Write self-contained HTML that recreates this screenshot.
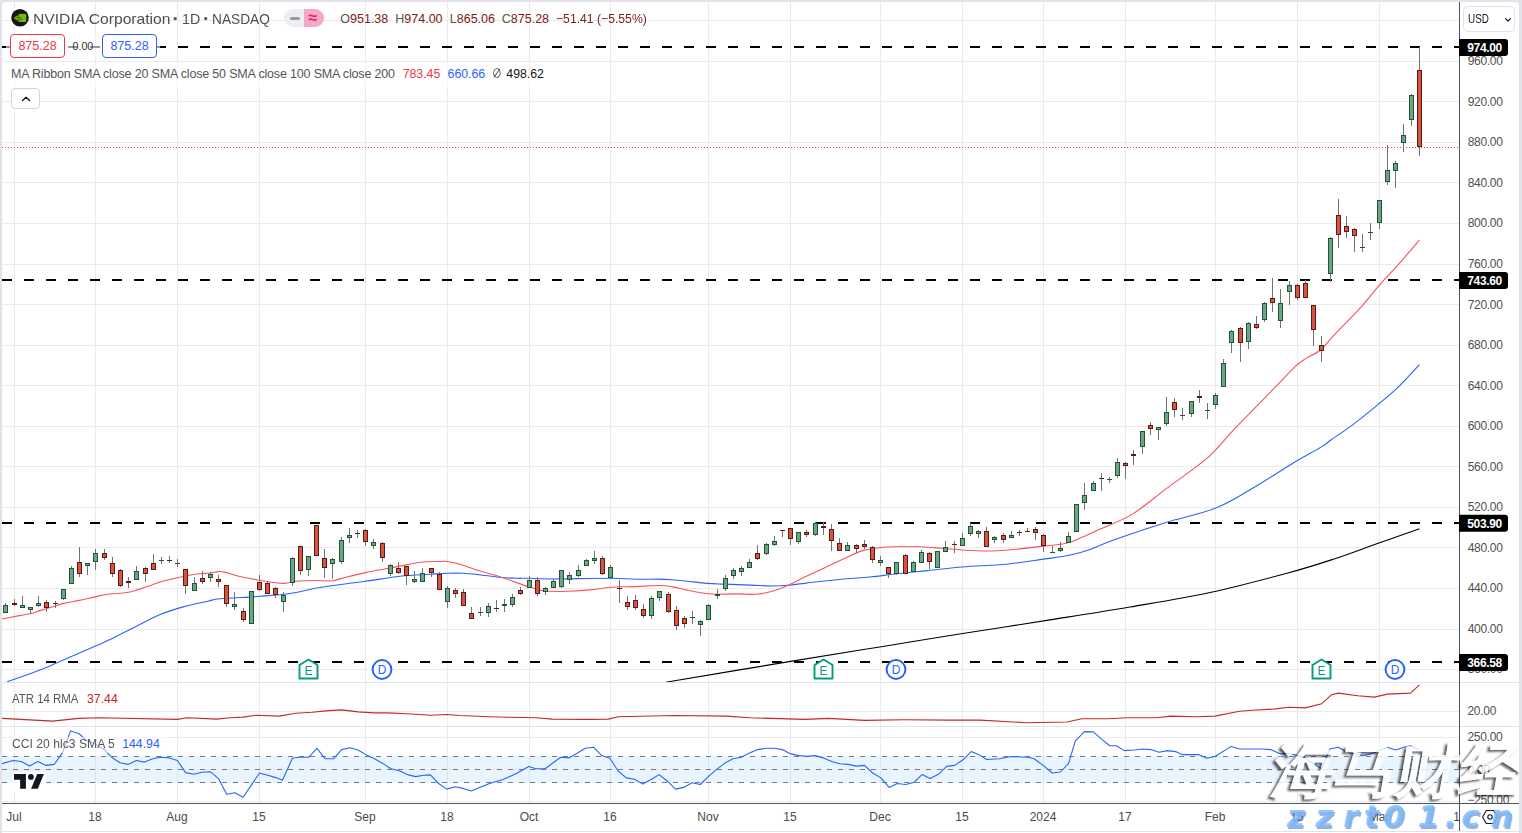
<!DOCTYPE html>
<html><head><meta charset="utf-8"><title>NVIDIA Corporation · 1D · NASDAQ</title>
<style>
html,body{margin:0;padding:0;}
body{width:1522px;height:833px;overflow:hidden;background:#e0e3eb;position:relative;font-family:"Liberation Sans","Noto Sans CJK SC",sans-serif;}
#panel{position:absolute;left:2px;top:2px;width:1517px;height:829px;background:#fff;border-radius:4px 4px 0 0;}
#strip{position:absolute;left:2px;top:832px;width:1517px;height:1px;background:#fff;}
svg{position:absolute;left:0;top:0;}
svg text{font-family:"Liberation Sans",sans-serif;}
.lg{position:absolute;white-space:nowrap;color:#555;}
.wml{position:absolute;top:798px;font-size:31px;line-height:36px;font-family:"DejaVu Sans",sans-serif;font-weight:bold;font-style:italic;color:rgba(120,190,255,0.85);text-shadow:1.5px 1.5px 0.5px rgba(80,100,190,0.55);white-space:nowrap;}
</style></head><body>
<div id="panel"></div><div id="strip"></div>
<svg width="1522" height="833" viewBox="0 0 1522 833">
<rect x="14" y="2" width="1" height="801" fill="#ebebeb"/>
<rect x="95" y="2" width="1" height="801" fill="#ebebeb"/>
<rect x="177" y="2" width="1" height="801" fill="#ebebeb"/>
<rect x="259" y="2" width="1" height="801" fill="#ebebeb"/>
<rect x="365" y="2" width="1" height="801" fill="#ebebeb"/>
<rect x="447" y="2" width="1" height="801" fill="#ebebeb"/>
<rect x="529" y="2" width="1" height="801" fill="#ebebeb"/>
<rect x="610" y="2" width="1" height="801" fill="#ebebeb"/>
<rect x="708" y="2" width="1" height="801" fill="#ebebeb"/>
<rect x="790" y="2" width="1" height="801" fill="#ebebeb"/>
<rect x="880" y="2" width="1" height="801" fill="#ebebeb"/>
<rect x="962" y="2" width="1" height="801" fill="#ebebeb"/>
<rect x="1043" y="2" width="1" height="801" fill="#ebebeb"/>
<rect x="1125" y="2" width="1" height="801" fill="#ebebeb"/>
<rect x="1215" y="2" width="1" height="801" fill="#ebebeb"/>
<rect x="1297" y="2" width="1" height="801" fill="#ebebeb"/>
<rect x="1379" y="2" width="1" height="801" fill="#ebebeb"/>
<rect x="2" y="20" width="1457" height="1" fill="#ebebeb"/>
<rect x="2" y="61" width="1457" height="1" fill="#ebebeb"/>
<rect x="2" y="101" width="1457" height="1" fill="#ebebeb"/>
<rect x="2" y="142" width="1457" height="1" fill="#ebebeb"/>
<rect x="2" y="182" width="1457" height="1" fill="#ebebeb"/>
<rect x="2" y="223" width="1457" height="1" fill="#ebebeb"/>
<rect x="2" y="264" width="1457" height="1" fill="#ebebeb"/>
<rect x="2" y="304" width="1457" height="1" fill="#ebebeb"/>
<rect x="2" y="345" width="1457" height="1" fill="#ebebeb"/>
<rect x="2" y="385" width="1457" height="1" fill="#ebebeb"/>
<rect x="2" y="426" width="1457" height="1" fill="#ebebeb"/>
<rect x="2" y="466" width="1457" height="1" fill="#ebebeb"/>
<rect x="2" y="507" width="1457" height="1" fill="#ebebeb"/>
<rect x="2" y="547" width="1457" height="1" fill="#ebebeb"/>
<rect x="2" y="588" width="1457" height="1" fill="#ebebeb"/>
<rect x="2" y="629" width="1457" height="1" fill="#ebebeb"/>
<rect x="2" y="669" width="1457" height="1" fill="#ebebeb"/>
<rect x="2" y="711" width="1457" height="1" fill="#ebebeb"/>
<rect x="2" y="737" width="1457" height="1" fill="#ebebeb"/>
<rect x="2" y="801" width="1457" height="1" fill="#ebebeb"/>
<rect x="2" y="756" width="1457" height="27" fill="#2196f3" fill-opacity="0.1"/>
<rect x="2" y="769" width="1457" height="1" fill="#ebebeb"/>
<line x1="2" y1="756.5" x2="1459" y2="756.5" stroke="#787b86" stroke-width="1" stroke-dasharray="5 6"/>
<line x1="2" y1="769.5" x2="1459" y2="769.5" stroke="#787b86" stroke-width="1" stroke-dasharray="5 6"/>
<line x1="2" y1="782.5" x2="1459" y2="782.5" stroke="#787b86" stroke-width="1" stroke-dasharray="5 6"/>
<rect x="2" y="682" width="1517" height="1" fill="#e0e3eb"/>
<rect x="2" y="726" width="1517" height="1" fill="#e0e3eb"/>
<clipPath id="cm"><rect x="2" y="2" width="1457" height="680"/></clipPath>
<clipPath id="ca"><rect x="2" y="683" width="1457" height="43"/></clipPath>
<clipPath id="cc"><rect x="2" y="727" width="1457" height="76"/></clipPath>
<g clip-path="url(#cm)"><line x1="2" y1="47" x2="1459" y2="47" stroke="#000" stroke-width="2" stroke-dasharray="10 12"/>
<line x1="2" y1="280" x2="1459" y2="280" stroke="#000" stroke-width="2" stroke-dasharray="10 12"/>
<line x1="2" y1="523" x2="1459" y2="523" stroke="#000" stroke-width="2" stroke-dasharray="10 12"/>
<line x1="2" y1="662" x2="1459" y2="662" stroke="#000" stroke-width="2" stroke-dasharray="10 12"/>
<line x1="2" y1="147.5" x2="1459" y2="147.5" stroke="#d9503f" stroke-width="1" stroke-dasharray="1 2"/>
<path d="M665.8,682.2 C686.6,678.73 754.68,667.32 790.6,661.4 C826.52,655.48 852.62,651.35 881.3,646.7 C909.98,642.05 934.58,637.97 962.7,633.5 C990.82,629.03 1022.12,624.32 1050,619.9 C1077.88,615.48 1103.33,611.57 1130,607 C1156.67,602.43 1183.68,598.17 1210,592.5 C1236.32,586.83 1267.22,578.58 1287.9,573 C1308.58,567.42 1319.4,563.83 1334.1,559 C1348.8,554.17 1361.87,549.05 1376.1,544 C1390.33,538.95 1412.27,531.25 1419.5,528.7" fill="none" stroke="#000000" stroke-width="1.1"/>
<path d="M7.2,681.8 C12,680.1 27.6,674.8 36,671.6 C44.4,668.4 47.6,666.9 57.6,662.6 C67.6,658.3 87.27,649.63 96,645.8 C104.73,641.97 103.33,642.83 110,639.6 C116.67,636.37 127.67,630.57 136,626.4 C144.33,622.23 152,617.9 160,614.6 C168,611.3 176,608.83 184,606.6 C192,604.37 202,602.5 208,601.2 C214,599.9 211.33,599.62 220,598.8 C228.67,597.98 248.33,597.18 260,596.3 C271.67,595.42 280,594.97 290,593.5 C300,592.03 307.5,589.53 320,587.5 C332.5,585.47 351.67,583.18 365,581.3 C378.33,579.42 389.17,577.37 400,576.2 C410.83,575.03 422.12,574.78 430,574.3 C437.88,573.82 441.78,573.47 447.3,573.3 C452.82,573.13 457.82,573.07 463.1,573.3 C468.38,573.53 473,574.05 479,574.7 C485,575.35 492.87,576.6 499.1,577.2 C505.33,577.8 511.35,578.12 516.4,578.3 C521.45,578.48 523.8,578.18 529.4,578.3 C535,578.42 536.47,579 550,579 C563.53,579 595.47,578.25 610.6,578.3 C625.73,578.35 632.8,579.17 640.8,579.3 C648.8,579.43 653.47,579.02 658.6,579.1 C663.73,579.18 665.83,579.33 671.6,579.8 C677.37,580.27 687.2,581.3 693.2,581.9 C699.2,582.5 702.8,583.03 707.6,583.4 C712.4,583.77 714.8,583.82 722,584.1 C729.2,584.38 742.07,584.78 750.8,585.1 C759.53,585.42 767.83,586.02 774.4,586 C780.97,585.98 783,585.7 790.2,585 C797.4,584.3 808.23,582.83 817.6,581.8 C826.97,580.77 837.67,579.6 846.4,578.8 C855.13,578 861.27,577.88 870,577 C878.73,576.12 889.2,574.57 898.8,573.5 C908.4,572.43 917.03,571.68 927.6,570.6 C938.17,569.52 951.8,567.88 962.2,567 C972.6,566.12 982.23,565.8 990,565.3 C997.77,564.8 999.88,565.03 1008.8,564 C1017.72,562.97 1033.4,560.55 1043.5,559.1 C1053.6,557.65 1061.65,556.9 1069.4,555.3 C1077.15,553.7 1082.3,552.17 1090,549.5 C1097.7,546.83 1102.93,543.8 1115.6,539.3 C1128.27,534.8 1149.18,527.75 1166,522.5 C1182.82,517.25 1201.08,514.1 1216.5,507.8 C1231.92,501.5 1245.9,492.05 1258.5,484.7 C1271.1,477.35 1281.6,470 1292.1,463.7 C1302.6,457.4 1315.03,450.85 1321.5,446.9 C1327.97,442.95 1325.55,443.8 1330.9,440 C1336.25,436.2 1345.62,430.12 1353.6,424.1 C1361.58,418.08 1371.23,410.2 1378.8,403.9 C1386.37,397.6 1392.22,392.85 1399,386.3 C1405.78,379.75 1416.08,368.22 1419.5,364.6" fill="none" stroke="#2962ff" stroke-width="1.1"/>
<path d="M2,619 C4.07,618.6 9.73,617.48 14.4,616.6 C19.07,615.72 25.73,614.7 30,613.7 C34.27,612.7 36.33,611.72 40,610.6 C43.67,609.48 48.1,608.2 52,607 C55.9,605.8 58.87,604.5 63.4,603.4 C67.93,602.3 73.77,601.53 79.2,600.4 C84.63,599.27 90.87,597.67 96,596.6 C101.13,595.53 104.6,594.73 110,594 C115.4,593.27 122.07,593.5 128.4,592.2 C134.73,590.9 142.73,587.9 148,586.2 C153.27,584.5 155.1,583.4 160,582 C164.9,580.6 171.4,579.1 177.4,577.8 C183.4,576.5 190.57,575 196,574.2 C201.43,573.4 206.33,573.43 210,573 C213.67,572.57 215.6,571.75 218,571.6 C220.4,571.45 220.93,571.33 224.4,572.1 C227.87,572.87 232.97,574.85 238.8,576.2 C244.63,577.55 251.95,579 259.4,580.2 C266.85,581.4 277.33,583.23 283.5,583.4 C289.67,583.57 291.05,581.68 296.4,581.2 C301.75,580.72 309.75,580.53 315.6,580.5 C321.45,580.47 327.17,581.35 331.5,581 C335.83,580.65 335.93,579.8 341.6,578.4 C347.27,577 358.3,574.17 365.5,572.6 C372.7,571.03 379.05,570.08 384.8,569 C390.55,567.92 394,567.23 400,566.1 C406,564.97 414.13,562.97 420.8,562.2 C427.47,561.43 435.53,561.62 440,561.5 C444.47,561.38 443.87,560.92 447.6,561.5 C451.33,562.08 457.17,563.47 462.4,565 C467.63,566.53 473.35,568.95 479,570.7 C484.65,572.45 491.02,573.87 496.3,575.5 C501.58,577.13 505.42,578.65 510.7,580.5 C515.98,582.35 522.72,584.92 528,586.6 C533.28,588.28 538.73,589.82 542.4,590.6 C546.07,591.38 545.6,591.18 550,591.3 C554.4,591.42 562.07,591.53 568.8,591.3 C575.53,591.07 583.43,590.57 590.4,589.9 C597.37,589.23 603.4,587.85 610.6,587.3 C617.8,586.75 625.6,586.9 633.6,586.6 C641.6,586.3 652.27,585.5 658.6,585.5 C664.93,585.5 667.03,585.87 671.6,586.6 C676.17,587.33 681.2,588.88 686,589.9 C690.8,590.92 695.6,591.98 700.4,592.7 C705.2,593.42 708.8,594 714.8,594.2 C720.8,594.4 729.43,593.9 736.4,593.9 C743.37,593.9 750.5,594.68 756.6,594.2 C762.7,593.72 767.63,592.53 773,591 C778.37,589.47 783.77,587.2 788.8,585 C793.83,582.8 797.2,580.68 803.2,577.8 C809.2,574.92 817.6,571.07 824.8,567.7 C832,564.33 839.92,560.48 846.4,557.6 C852.88,554.72 857.37,552.13 863.7,550.4 C870.03,548.67 878.55,547.8 884.4,547.2 C890.25,546.6 892.8,546.87 898.8,546.8 C904.8,546.73 913.2,546.55 920.4,546.8 C927.6,547.05 935.03,547.77 942,548.3 C948.97,548.83 954.43,549.55 962.2,550 C969.97,550.45 980.83,551 988.6,551 C996.37,551 999.65,550.82 1008.8,550 C1017.95,549.18 1033.9,547.22 1043.5,546.1 C1053.1,544.98 1059.98,544.78 1066.4,543.3 C1072.82,541.82 1076.4,539.57 1082,537.2 C1087.6,534.83 1091.6,532.95 1100,529.1 C1108.4,525.25 1121.4,520.8 1132.4,514.1 C1143.4,507.4 1153.4,498.35 1166,488.9 C1178.6,479.45 1196.78,467.2 1208,457.4 C1219.22,447.6 1225.42,438.38 1233.3,430.1 C1241.18,421.82 1247.85,415.33 1255.3,407.7 C1262.75,400.07 1271.28,391.23 1278,384.3 C1284.72,377.37 1290.98,370.38 1295.6,366.1 C1300.22,361.82 1301.5,361.33 1305.7,358.6 C1309.9,355.87 1316.18,353.48 1320.8,349.7 C1325.42,345.92 1326.67,343.03 1333.4,335.9 C1340.13,328.77 1353.22,315.73 1361.2,306.9 C1369.18,298.07 1375.42,289.62 1381.3,282.9 C1387.18,276.18 1390.13,273.73 1396.5,266.6 C1402.87,259.47 1415.67,244.52 1419.5,240.1" fill="none" stroke="#f7525f" stroke-width="1.1"/>
<rect x="5" y="603" width="1" height="10" fill="#737375"/>
<rect x="3" y="605" width="5" height="8" fill="#225437"/>
<rect x="4" y="606" width="3" height="6" fill="#6ba583"/>
<rect x="14" y="599" width="1" height="7" fill="#737375"/>
<rect x="12" y="603" width="5" height="2" fill="#5b1a13"/>
<rect x="22" y="596" width="1" height="12" fill="#737375"/>
<rect x="20" y="605" width="5" height="3" fill="#225437"/>
<rect x="21" y="606" width="3" height="1" fill="#6ba583"/>
<rect x="30" y="607" width="1" height="7" fill="#737375"/>
<rect x="28" y="607" width="5" height="3" fill="#225437"/>
<rect x="29" y="608" width="3" height="1" fill="#6ba583"/>
<rect x="38" y="596" width="1" height="11" fill="#737375"/>
<rect x="36" y="603" width="5" height="3" fill="#225437"/>
<rect x="37" y="604" width="3" height="1" fill="#6ba583"/>
<rect x="46" y="600" width="1" height="12" fill="#737375"/>
<rect x="44" y="602" width="5" height="6" fill="#5b1a13"/>
<rect x="45" y="603" width="3" height="4" fill="#d75442"/>
<rect x="55" y="601" width="1" height="7" fill="#737375"/>
<rect x="53" y="603" width="5" height="1" fill="#5b1a13"/>
<rect x="63" y="589" width="1" height="11" fill="#737375"/>
<rect x="61" y="589" width="5" height="10" fill="#225437"/>
<rect x="62" y="590" width="3" height="8" fill="#6ba583"/>
<rect x="71" y="566" width="1" height="18" fill="#737375"/>
<rect x="69" y="568" width="5" height="16" fill="#225437"/>
<rect x="70" y="569" width="3" height="14" fill="#6ba583"/>
<rect x="79" y="547" width="1" height="30" fill="#737375"/>
<rect x="77" y="562" width="5" height="12" fill="#5b1a13"/>
<rect x="78" y="563" width="3" height="10" fill="#d75442"/>
<rect x="87" y="563" width="1" height="12" fill="#737375"/>
<rect x="85" y="563" width="5" height="3" fill="#225437"/>
<rect x="86" y="564" width="3" height="1" fill="#6ba583"/>
<rect x="95" y="549" width="1" height="21" fill="#737375"/>
<rect x="93" y="553" width="5" height="9" fill="#225437"/>
<rect x="94" y="554" width="3" height="7" fill="#6ba583"/>
<rect x="104" y="549" width="1" height="11" fill="#737375"/>
<rect x="102" y="553" width="5" height="5" fill="#5b1a13"/>
<rect x="103" y="554" width="3" height="3" fill="#d75442"/>
<rect x="112" y="557" width="1" height="20" fill="#737375"/>
<rect x="110" y="563" width="5" height="11" fill="#5b1a13"/>
<rect x="111" y="564" width="3" height="9" fill="#d75442"/>
<rect x="120" y="569" width="1" height="18" fill="#737375"/>
<rect x="118" y="570" width="5" height="16" fill="#5b1a13"/>
<rect x="119" y="571" width="3" height="14" fill="#d75442"/>
<rect x="128" y="577" width="1" height="11" fill="#737375"/>
<rect x="126" y="581" width="5" height="2" fill="#5b1a13"/>
<rect x="136" y="566" width="1" height="14" fill="#737375"/>
<rect x="134" y="571" width="5" height="9" fill="#225437"/>
<rect x="135" y="572" width="3" height="7" fill="#6ba583"/>
<rect x="145" y="567" width="1" height="15" fill="#737375"/>
<rect x="143" y="568" width="5" height="6" fill="#5b1a13"/>
<rect x="144" y="569" width="3" height="4" fill="#d75442"/>
<rect x="153" y="554" width="1" height="16" fill="#737375"/>
<rect x="151" y="563" width="5" height="7" fill="#5b1a13"/>
<rect x="152" y="564" width="3" height="5" fill="#d75442"/>
<rect x="161" y="557" width="1" height="7" fill="#737375"/>
<rect x="159" y="560" width="5" height="1" fill="#225437"/>
<rect x="169" y="556" width="1" height="7" fill="#737375"/>
<rect x="167" y="560" width="5" height="1" fill="#5b1a13"/>
<rect x="177" y="559" width="1" height="8" fill="#737375"/>
<rect x="175" y="563" width="5" height="1" fill="#225437"/>
<rect x="185" y="569" width="1" height="25" fill="#737375"/>
<rect x="183" y="569" width="5" height="17" fill="#5b1a13"/>
<rect x="184" y="570" width="3" height="15" fill="#d75442"/>
<rect x="194" y="577" width="1" height="14" fill="#737375"/>
<rect x="192" y="583" width="5" height="8" fill="#225437"/>
<rect x="193" y="584" width="3" height="6" fill="#6ba583"/>
<rect x="202" y="571" width="1" height="13" fill="#737375"/>
<rect x="200" y="578" width="5" height="4" fill="#5b1a13"/>
<rect x="201" y="579" width="3" height="2" fill="#d75442"/>
<rect x="210" y="572" width="1" height="10" fill="#737375"/>
<rect x="208" y="574" width="5" height="4" fill="#225437"/>
<rect x="209" y="575" width="3" height="2" fill="#6ba583"/>
<rect x="218" y="575" width="1" height="12" fill="#737375"/>
<rect x="216" y="579" width="5" height="3" fill="#5b1a13"/>
<rect x="217" y="580" width="3" height="1" fill="#d75442"/>
<rect x="226" y="585" width="1" height="22" fill="#737375"/>
<rect x="224" y="585" width="5" height="19" fill="#5b1a13"/>
<rect x="225" y="586" width="3" height="17" fill="#d75442"/>
<rect x="234" y="592" width="1" height="18" fill="#737375"/>
<rect x="232" y="604" width="5" height="3" fill="#225437"/>
<rect x="233" y="605" width="3" height="1" fill="#6ba583"/>
<rect x="243" y="608" width="1" height="14" fill="#737375"/>
<rect x="241" y="611" width="5" height="9" fill="#5b1a13"/>
<rect x="242" y="612" width="3" height="7" fill="#d75442"/>
<rect x="251" y="591" width="1" height="33" fill="#737375"/>
<rect x="249" y="591" width="5" height="33" fill="#225437"/>
<rect x="250" y="592" width="3" height="31" fill="#6ba583"/>
<rect x="259" y="575" width="1" height="16" fill="#737375"/>
<rect x="257" y="582" width="5" height="8" fill="#5b1a13"/>
<rect x="258" y="583" width="3" height="6" fill="#d75442"/>
<rect x="267" y="581" width="1" height="13" fill="#737375"/>
<rect x="265" y="583" width="5" height="11" fill="#5b1a13"/>
<rect x="266" y="584" width="3" height="9" fill="#d75442"/>
<rect x="275" y="587" width="1" height="11" fill="#737375"/>
<rect x="273" y="588" width="5" height="7" fill="#5b1a13"/>
<rect x="274" y="589" width="3" height="5" fill="#d75442"/>
<rect x="283" y="592" width="1" height="20" fill="#737375"/>
<rect x="281" y="595" width="5" height="7" fill="#225437"/>
<rect x="282" y="596" width="3" height="5" fill="#6ba583"/>
<rect x="292" y="557" width="1" height="29" fill="#737375"/>
<rect x="290" y="558" width="5" height="25" fill="#225437"/>
<rect x="291" y="559" width="3" height="23" fill="#6ba583"/>
<rect x="300" y="546" width="1" height="29" fill="#737375"/>
<rect x="298" y="546" width="5" height="25" fill="#5b1a13"/>
<rect x="299" y="547" width="3" height="23" fill="#d75442"/>
<rect x="308" y="556" width="1" height="20" fill="#737375"/>
<rect x="306" y="556" width="5" height="14" fill="#225437"/>
<rect x="307" y="557" width="3" height="12" fill="#6ba583"/>
<rect x="316" y="525" width="1" height="31" fill="#737375"/>
<rect x="314" y="525" width="5" height="31" fill="#5b1a13"/>
<rect x="315" y="526" width="3" height="29" fill="#d75442"/>
<rect x="324" y="549" width="1" height="29" fill="#737375"/>
<rect x="322" y="558" width="5" height="10" fill="#5b1a13"/>
<rect x="323" y="559" width="3" height="8" fill="#d75442"/>
<rect x="332" y="558" width="1" height="21" fill="#737375"/>
<rect x="330" y="559" width="5" height="5" fill="#225437"/>
<rect x="331" y="560" width="3" height="3" fill="#6ba583"/>
<rect x="341" y="537" width="1" height="27" fill="#737375"/>
<rect x="339" y="540" width="5" height="22" fill="#225437"/>
<rect x="340" y="541" width="3" height="20" fill="#6ba583"/>
<rect x="349" y="528" width="1" height="15" fill="#737375"/>
<rect x="347" y="535" width="5" height="3" fill="#225437"/>
<rect x="348" y="536" width="3" height="1" fill="#6ba583"/>
<rect x="357" y="530" width="1" height="8" fill="#737375"/>
<rect x="355" y="533" width="5" height="1" fill="#5b1a13"/>
<rect x="365" y="529" width="1" height="17" fill="#737375"/>
<rect x="363" y="530" width="5" height="12" fill="#5b1a13"/>
<rect x="364" y="531" width="3" height="10" fill="#d75442"/>
<rect x="373" y="539" width="1" height="10" fill="#737375"/>
<rect x="371" y="542" width="5" height="4" fill="#225437"/>
<rect x="372" y="543" width="3" height="2" fill="#6ba583"/>
<rect x="382" y="542" width="1" height="20" fill="#737375"/>
<rect x="380" y="543" width="5" height="15" fill="#5b1a13"/>
<rect x="381" y="544" width="3" height="13" fill="#d75442"/>
<rect x="390" y="564" width="1" height="12" fill="#737375"/>
<rect x="388" y="565" width="5" height="9" fill="#225437"/>
<rect x="389" y="566" width="3" height="7" fill="#6ba583"/>
<rect x="398" y="562" width="1" height="12" fill="#737375"/>
<rect x="396" y="568" width="5" height="5" fill="#5b1a13"/>
<rect x="397" y="569" width="3" height="3" fill="#d75442"/>
<rect x="406" y="566" width="1" height="19" fill="#737375"/>
<rect x="404" y="566" width="5" height="10" fill="#5b1a13"/>
<rect x="405" y="567" width="3" height="8" fill="#d75442"/>
<rect x="414" y="571" width="1" height="12" fill="#737375"/>
<rect x="412" y="579" width="5" height="3" fill="#225437"/>
<rect x="413" y="580" width="3" height="1" fill="#6ba583"/>
<rect x="422" y="568" width="1" height="14" fill="#737375"/>
<rect x="420" y="573" width="5" height="9" fill="#225437"/>
<rect x="421" y="574" width="3" height="7" fill="#6ba583"/>
<rect x="431" y="568" width="1" height="9" fill="#737375"/>
<rect x="429" y="568" width="5" height="5" fill="#5b1a13"/>
<rect x="430" y="569" width="3" height="3" fill="#d75442"/>
<rect x="439" y="572" width="1" height="18" fill="#737375"/>
<rect x="437" y="574" width="5" height="16" fill="#5b1a13"/>
<rect x="438" y="575" width="3" height="14" fill="#d75442"/>
<rect x="447" y="586" width="1" height="22" fill="#737375"/>
<rect x="445" y="588" width="5" height="14" fill="#225437"/>
<rect x="446" y="589" width="3" height="12" fill="#6ba583"/>
<rect x="455" y="588" width="1" height="10" fill="#737375"/>
<rect x="453" y="590" width="5" height="4" fill="#5b1a13"/>
<rect x="454" y="591" width="3" height="2" fill="#d75442"/>
<rect x="463" y="589" width="1" height="17" fill="#737375"/>
<rect x="461" y="592" width="5" height="14" fill="#5b1a13"/>
<rect x="462" y="593" width="3" height="12" fill="#d75442"/>
<rect x="471" y="607" width="1" height="12" fill="#737375"/>
<rect x="469" y="613" width="5" height="6" fill="#5b1a13"/>
<rect x="470" y="614" width="3" height="4" fill="#d75442"/>
<rect x="480" y="607" width="1" height="9" fill="#737375"/>
<rect x="478" y="612" width="5" height="1" fill="#225437"/>
<rect x="488" y="603" width="1" height="14" fill="#737375"/>
<rect x="486" y="606" width="5" height="7" fill="#225437"/>
<rect x="487" y="607" width="3" height="5" fill="#6ba583"/>
<rect x="496" y="600" width="1" height="12" fill="#737375"/>
<rect x="494" y="608" width="5" height="1" fill="#5b1a13"/>
<rect x="504" y="599" width="1" height="13" fill="#737375"/>
<rect x="502" y="604" width="5" height="2" fill="#225437"/>
<rect x="512" y="594" width="1" height="13" fill="#737375"/>
<rect x="510" y="597" width="5" height="8" fill="#225437"/>
<rect x="511" y="598" width="3" height="6" fill="#6ba583"/>
<rect x="520" y="587" width="1" height="8" fill="#737375"/>
<rect x="518" y="590" width="5" height="4" fill="#5b1a13"/>
<rect x="519" y="591" width="3" height="2" fill="#d75442"/>
<rect x="529" y="576" width="1" height="12" fill="#737375"/>
<rect x="527" y="580" width="5" height="8" fill="#225437"/>
<rect x="528" y="581" width="3" height="6" fill="#6ba583"/>
<rect x="537" y="577" width="1" height="19" fill="#737375"/>
<rect x="535" y="580" width="5" height="14" fill="#5b1a13"/>
<rect x="536" y="581" width="3" height="12" fill="#d75442"/>
<rect x="545" y="587" width="1" height="8" fill="#737375"/>
<rect x="543" y="588" width="5" height="4" fill="#225437"/>
<rect x="544" y="589" width="3" height="2" fill="#6ba583"/>
<rect x="553" y="579" width="1" height="9" fill="#737375"/>
<rect x="551" y="581" width="5" height="7" fill="#225437"/>
<rect x="552" y="582" width="3" height="5" fill="#6ba583"/>
<rect x="561" y="570" width="1" height="18" fill="#737375"/>
<rect x="559" y="570" width="5" height="17" fill="#225437"/>
<rect x="560" y="571" width="3" height="15" fill="#6ba583"/>
<rect x="569" y="572" width="1" height="12" fill="#737375"/>
<rect x="567" y="575" width="5" height="5" fill="#225437"/>
<rect x="568" y="576" width="3" height="3" fill="#6ba583"/>
<rect x="578" y="565" width="1" height="12" fill="#737375"/>
<rect x="576" y="570" width="5" height="6" fill="#225437"/>
<rect x="577" y="571" width="3" height="4" fill="#6ba583"/>
<rect x="586" y="559" width="1" height="7" fill="#737375"/>
<rect x="584" y="560" width="5" height="6" fill="#225437"/>
<rect x="585" y="561" width="3" height="4" fill="#6ba583"/>
<rect x="594" y="551" width="1" height="13" fill="#737375"/>
<rect x="592" y="558" width="5" height="3" fill="#225437"/>
<rect x="593" y="559" width="3" height="1" fill="#6ba583"/>
<rect x="602" y="556" width="1" height="19" fill="#737375"/>
<rect x="600" y="558" width="5" height="16" fill="#5b1a13"/>
<rect x="601" y="559" width="3" height="14" fill="#d75442"/>
<rect x="610" y="565" width="1" height="13" fill="#737375"/>
<rect x="608" y="567" width="5" height="11" fill="#225437"/>
<rect x="609" y="568" width="3" height="9" fill="#6ba583"/>
<rect x="619" y="580" width="1" height="23" fill="#737375"/>
<rect x="617" y="588" width="5" height="1" fill="#5b1a13"/>
<rect x="627" y="596" width="1" height="14" fill="#737375"/>
<rect x="625" y="602" width="5" height="5" fill="#5b1a13"/>
<rect x="626" y="603" width="3" height="3" fill="#d75442"/>
<rect x="635" y="595" width="1" height="15" fill="#737375"/>
<rect x="633" y="600" width="5" height="8" fill="#5b1a13"/>
<rect x="634" y="601" width="3" height="6" fill="#d75442"/>
<rect x="643" y="604" width="1" height="14" fill="#737375"/>
<rect x="641" y="609" width="5" height="7" fill="#5b1a13"/>
<rect x="642" y="610" width="3" height="5" fill="#d75442"/>
<rect x="651" y="596" width="1" height="23" fill="#737375"/>
<rect x="649" y="598" width="5" height="18" fill="#225437"/>
<rect x="650" y="599" width="3" height="16" fill="#6ba583"/>
<rect x="659" y="591" width="1" height="10" fill="#737375"/>
<rect x="657" y="591" width="5" height="7" fill="#225437"/>
<rect x="658" y="592" width="3" height="5" fill="#6ba583"/>
<rect x="668" y="592" width="1" height="21" fill="#737375"/>
<rect x="666" y="594" width="5" height="18" fill="#5b1a13"/>
<rect x="667" y="595" width="3" height="16" fill="#d75442"/>
<rect x="676" y="606" width="1" height="24" fill="#737375"/>
<rect x="674" y="610" width="5" height="16" fill="#5b1a13"/>
<rect x="675" y="611" width="3" height="14" fill="#d75442"/>
<rect x="684" y="616" width="1" height="12" fill="#737375"/>
<rect x="682" y="618" width="5" height="6" fill="#5b1a13"/>
<rect x="683" y="619" width="3" height="4" fill="#d75442"/>
<rect x="692" y="611" width="1" height="13" fill="#737375"/>
<rect x="690" y="617" width="5" height="1" fill="#225437"/>
<rect x="700" y="620" width="1" height="16" fill="#737375"/>
<rect x="698" y="621" width="5" height="4" fill="#225437"/>
<rect x="699" y="622" width="3" height="2" fill="#6ba583"/>
<rect x="708" y="604" width="1" height="16" fill="#737375"/>
<rect x="706" y="605" width="5" height="15" fill="#225437"/>
<rect x="707" y="606" width="3" height="13" fill="#6ba583"/>
<rect x="717" y="589" width="1" height="10" fill="#737375"/>
<rect x="715" y="594" width="5" height="2" fill="#225437"/>
<rect x="725" y="575" width="1" height="16" fill="#737375"/>
<rect x="723" y="578" width="5" height="11" fill="#225437"/>
<rect x="724" y="579" width="3" height="9" fill="#6ba583"/>
<rect x="733" y="568" width="1" height="11" fill="#737375"/>
<rect x="731" y="570" width="5" height="6" fill="#225437"/>
<rect x="732" y="571" width="3" height="4" fill="#6ba583"/>
<rect x="741" y="566" width="1" height="10" fill="#737375"/>
<rect x="739" y="568" width="5" height="4" fill="#225437"/>
<rect x="740" y="569" width="3" height="2" fill="#6ba583"/>
<rect x="749" y="559" width="1" height="9" fill="#737375"/>
<rect x="747" y="562" width="5" height="6" fill="#225437"/>
<rect x="748" y="563" width="3" height="4" fill="#6ba583"/>
<rect x="757" y="545" width="1" height="15" fill="#737375"/>
<rect x="755" y="553" width="5" height="6" fill="#5b1a13"/>
<rect x="756" y="554" width="3" height="4" fill="#d75442"/>
<rect x="766" y="543" width="1" height="12" fill="#737375"/>
<rect x="764" y="544" width="5" height="10" fill="#225437"/>
<rect x="765" y="545" width="3" height="8" fill="#6ba583"/>
<rect x="774" y="536" width="1" height="10" fill="#737375"/>
<rect x="772" y="541" width="5" height="4" fill="#225437"/>
<rect x="773" y="542" width="3" height="2" fill="#6ba583"/>
<rect x="782" y="530" width="1" height="7" fill="#737375"/>
<rect x="780" y="530" width="5" height="1" fill="#5b1a13"/>
<rect x="790" y="528" width="1" height="17" fill="#737375"/>
<rect x="788" y="528" width="5" height="11" fill="#5b1a13"/>
<rect x="789" y="529" width="3" height="9" fill="#d75442"/>
<rect x="798" y="532" width="1" height="12" fill="#737375"/>
<rect x="796" y="532" width="5" height="10" fill="#225437"/>
<rect x="797" y="533" width="3" height="8" fill="#6ba583"/>
<rect x="806" y="530" width="1" height="7" fill="#737375"/>
<rect x="804" y="532" width="5" height="3" fill="#5b1a13"/>
<rect x="805" y="533" width="3" height="1" fill="#d75442"/>
<rect x="815" y="522" width="1" height="14" fill="#737375"/>
<rect x="813" y="523" width="5" height="12" fill="#225437"/>
<rect x="814" y="524" width="3" height="10" fill="#6ba583"/>
<rect x="823" y="522" width="1" height="13" fill="#737375"/>
<rect x="821" y="526" width="5" height="2" fill="#5b1a13"/>
<rect x="831" y="524" width="1" height="27" fill="#737375"/>
<rect x="829" y="529" width="5" height="12" fill="#5b1a13"/>
<rect x="830" y="530" width="3" height="10" fill="#d75442"/>
<rect x="839" y="538" width="1" height="13" fill="#737375"/>
<rect x="837" y="543" width="5" height="8" fill="#5b1a13"/>
<rect x="838" y="544" width="3" height="6" fill="#d75442"/>
<rect x="847" y="542" width="1" height="9" fill="#737375"/>
<rect x="845" y="545" width="5" height="6" fill="#225437"/>
<rect x="846" y="546" width="3" height="4" fill="#6ba583"/>
<rect x="856" y="544" width="1" height="9" fill="#737375"/>
<rect x="854" y="545" width="5" height="4" fill="#5b1a13"/>
<rect x="855" y="546" width="3" height="2" fill="#d75442"/>
<rect x="864" y="540" width="1" height="9" fill="#737375"/>
<rect x="862" y="544" width="5" height="3" fill="#5b1a13"/>
<rect x="863" y="545" width="3" height="1" fill="#d75442"/>
<rect x="872" y="546" width="1" height="17" fill="#737375"/>
<rect x="870" y="547" width="5" height="13" fill="#5b1a13"/>
<rect x="871" y="548" width="3" height="11" fill="#d75442"/>
<rect x="880" y="556" width="1" height="10" fill="#737375"/>
<rect x="878" y="560" width="5" height="3" fill="#225437"/>
<rect x="879" y="561" width="3" height="1" fill="#6ba583"/>
<rect x="888" y="567" width="1" height="11" fill="#737375"/>
<rect x="886" y="567" width="5" height="7" fill="#5b1a13"/>
<rect x="887" y="568" width="3" height="5" fill="#d75442"/>
<rect x="896" y="562" width="1" height="13" fill="#737375"/>
<rect x="894" y="562" width="5" height="12" fill="#225437"/>
<rect x="895" y="563" width="3" height="10" fill="#6ba583"/>
<rect x="905" y="554" width="1" height="20" fill="#737375"/>
<rect x="903" y="555" width="5" height="19" fill="#5b1a13"/>
<rect x="904" y="556" width="3" height="17" fill="#d75442"/>
<rect x="913" y="561" width="1" height="11" fill="#737375"/>
<rect x="911" y="562" width="5" height="10" fill="#225437"/>
<rect x="912" y="563" width="3" height="8" fill="#6ba583"/>
<rect x="921" y="550" width="1" height="13" fill="#737375"/>
<rect x="919" y="552" width="5" height="11" fill="#225437"/>
<rect x="920" y="553" width="3" height="9" fill="#6ba583"/>
<rect x="929" y="552" width="1" height="17" fill="#737375"/>
<rect x="927" y="553" width="5" height="9" fill="#5b1a13"/>
<rect x="928" y="554" width="3" height="7" fill="#d75442"/>
<rect x="937" y="551" width="1" height="17" fill="#737375"/>
<rect x="935" y="551" width="5" height="17" fill="#225437"/>
<rect x="936" y="552" width="3" height="15" fill="#6ba583"/>
<rect x="945" y="541" width="1" height="11" fill="#737375"/>
<rect x="943" y="547" width="5" height="5" fill="#225437"/>
<rect x="944" y="548" width="3" height="3" fill="#6ba583"/>
<rect x="954" y="541" width="1" height="12" fill="#737375"/>
<rect x="952" y="544" width="5" height="1" fill="#5b1a13"/>
<rect x="962" y="533" width="1" height="13" fill="#737375"/>
<rect x="960" y="538" width="5" height="8" fill="#225437"/>
<rect x="961" y="539" width="3" height="6" fill="#6ba583"/>
<rect x="970" y="523" width="1" height="13" fill="#737375"/>
<rect x="968" y="526" width="5" height="8" fill="#225437"/>
<rect x="969" y="527" width="3" height="6" fill="#6ba583"/>
<rect x="978" y="530" width="1" height="8" fill="#737375"/>
<rect x="976" y="531" width="5" height="3" fill="#225437"/>
<rect x="977" y="532" width="3" height="1" fill="#6ba583"/>
<rect x="986" y="527" width="1" height="20" fill="#737375"/>
<rect x="984" y="531" width="5" height="16" fill="#5b1a13"/>
<rect x="985" y="532" width="3" height="14" fill="#d75442"/>
<rect x="994" y="536" width="1" height="7" fill="#737375"/>
<rect x="992" y="537" width="5" height="3" fill="#225437"/>
<rect x="993" y="538" width="3" height="1" fill="#6ba583"/>
<rect x="1003" y="533" width="1" height="10" fill="#737375"/>
<rect x="1001" y="535" width="5" height="5" fill="#5b1a13"/>
<rect x="1002" y="536" width="3" height="3" fill="#d75442"/>
<rect x="1011" y="531" width="1" height="7" fill="#737375"/>
<rect x="1009" y="535" width="5" height="3" fill="#225437"/>
<rect x="1010" y="536" width="3" height="1" fill="#6ba583"/>
<rect x="1019" y="530" width="1" height="6" fill="#737375"/>
<rect x="1017" y="532" width="5" height="1" fill="#5b1a13"/>
<rect x="1027" y="528" width="1" height="4" fill="#737375"/>
<rect x="1025" y="531" width="5" height="1" fill="#5b1a13"/>
<rect x="1035" y="527" width="1" height="13" fill="#737375"/>
<rect x="1033" y="529" width="5" height="4" fill="#5b1a13"/>
<rect x="1034" y="530" width="3" height="2" fill="#d75442"/>
<rect x="1043" y="534" width="1" height="18" fill="#737375"/>
<rect x="1041" y="535" width="5" height="11" fill="#5b1a13"/>
<rect x="1042" y="536" width="3" height="9" fill="#d75442"/>
<rect x="1052" y="546" width="1" height="7" fill="#737375"/>
<rect x="1050" y="552" width="5" height="1" fill="#225437"/>
<rect x="1060" y="542" width="1" height="10" fill="#737375"/>
<rect x="1058" y="548" width="5" height="3" fill="#225437"/>
<rect x="1059" y="549" width="3" height="1" fill="#6ba583"/>
<rect x="1068" y="532" width="1" height="11" fill="#737375"/>
<rect x="1066" y="536" width="5" height="7" fill="#225437"/>
<rect x="1067" y="537" width="3" height="5" fill="#6ba583"/>
<rect x="1076" y="504" width="1" height="28" fill="#737375"/>
<rect x="1074" y="504" width="5" height="28" fill="#225437"/>
<rect x="1075" y="505" width="3" height="26" fill="#6ba583"/>
<rect x="1084" y="483" width="1" height="27" fill="#737375"/>
<rect x="1082" y="495" width="5" height="8" fill="#225437"/>
<rect x="1083" y="496" width="3" height="6" fill="#6ba583"/>
<rect x="1093" y="481" width="1" height="10" fill="#737375"/>
<rect x="1091" y="483" width="5" height="8" fill="#225437"/>
<rect x="1092" y="484" width="3" height="6" fill="#6ba583"/>
<rect x="1101" y="473" width="1" height="18" fill="#737375"/>
<rect x="1099" y="478" width="5" height="1" fill="#5b1a13"/>
<rect x="1109" y="477" width="1" height="6" fill="#737375"/>
<rect x="1107" y="479" width="5" height="1" fill="#225437"/>
<rect x="1117" y="458" width="1" height="20" fill="#737375"/>
<rect x="1115" y="462" width="5" height="14" fill="#225437"/>
<rect x="1116" y="463" width="3" height="12" fill="#6ba583"/>
<rect x="1125" y="462" width="1" height="17" fill="#737375"/>
<rect x="1123" y="463" width="5" height="3" fill="#5b1a13"/>
<rect x="1124" y="464" width="3" height="1" fill="#d75442"/>
<rect x="1133" y="450" width="1" height="15" fill="#737375"/>
<rect x="1131" y="454" width="5" height="2" fill="#5b1a13"/>
<rect x="1142" y="431" width="1" height="23" fill="#737375"/>
<rect x="1140" y="431" width="5" height="16" fill="#225437"/>
<rect x="1141" y="432" width="3" height="14" fill="#6ba583"/>
<rect x="1150" y="422" width="1" height="13" fill="#737375"/>
<rect x="1148" y="425" width="5" height="4" fill="#5b1a13"/>
<rect x="1149" y="426" width="3" height="2" fill="#d75442"/>
<rect x="1158" y="427" width="1" height="13" fill="#737375"/>
<rect x="1156" y="427" width="5" height="3" fill="#225437"/>
<rect x="1157" y="428" width="3" height="1" fill="#6ba583"/>
<rect x="1166" y="397" width="1" height="29" fill="#737375"/>
<rect x="1164" y="412" width="5" height="12" fill="#225437"/>
<rect x="1165" y="413" width="3" height="10" fill="#6ba583"/>
<rect x="1174" y="398" width="1" height="19" fill="#737375"/>
<rect x="1172" y="402" width="5" height="8" fill="#5b1a13"/>
<rect x="1173" y="403" width="3" height="6" fill="#d75442"/>
<rect x="1182" y="408" width="1" height="12" fill="#737375"/>
<rect x="1180" y="415" width="5" height="1" fill="#225437"/>
<rect x="1191" y="401" width="1" height="16" fill="#737375"/>
<rect x="1189" y="401" width="5" height="13" fill="#225437"/>
<rect x="1190" y="402" width="3" height="11" fill="#6ba583"/>
<rect x="1199" y="390" width="1" height="13" fill="#737375"/>
<rect x="1197" y="396" width="5" height="2" fill="#5b1a13"/>
<rect x="1207" y="403" width="1" height="16" fill="#737375"/>
<rect x="1205" y="410" width="5" height="1" fill="#225437"/>
<rect x="1215" y="393" width="1" height="16" fill="#737375"/>
<rect x="1213" y="395" width="5" height="10" fill="#225437"/>
<rect x="1214" y="396" width="3" height="8" fill="#6ba583"/>
<rect x="1223" y="359" width="1" height="28" fill="#737375"/>
<rect x="1221" y="363" width="5" height="24" fill="#225437"/>
<rect x="1222" y="364" width="3" height="22" fill="#6ba583"/>
<rect x="1231" y="330" width="1" height="23" fill="#737375"/>
<rect x="1229" y="331" width="5" height="12" fill="#225437"/>
<rect x="1230" y="332" width="3" height="10" fill="#6ba583"/>
<rect x="1240" y="327" width="1" height="35" fill="#737375"/>
<rect x="1238" y="328" width="5" height="15" fill="#5b1a13"/>
<rect x="1239" y="329" width="3" height="13" fill="#d75442"/>
<rect x="1248" y="322" width="1" height="27" fill="#737375"/>
<rect x="1246" y="323" width="5" height="19" fill="#225437"/>
<rect x="1247" y="324" width="3" height="17" fill="#6ba583"/>
<rect x="1256" y="316" width="1" height="13" fill="#737375"/>
<rect x="1254" y="324" width="5" height="4" fill="#5b1a13"/>
<rect x="1255" y="325" width="3" height="2" fill="#d75442"/>
<rect x="1264" y="302" width="1" height="20" fill="#737375"/>
<rect x="1262" y="303" width="5" height="17" fill="#225437"/>
<rect x="1263" y="304" width="3" height="15" fill="#6ba583"/>
<rect x="1272" y="278" width="1" height="34" fill="#737375"/>
<rect x="1270" y="298" width="5" height="5" fill="#5b1a13"/>
<rect x="1271" y="299" width="3" height="3" fill="#d75442"/>
<rect x="1280" y="289" width="1" height="39" fill="#737375"/>
<rect x="1278" y="303" width="5" height="18" fill="#225437"/>
<rect x="1279" y="304" width="3" height="16" fill="#6ba583"/>
<rect x="1289" y="281" width="1" height="24" fill="#737375"/>
<rect x="1287" y="285" width="5" height="7" fill="#225437"/>
<rect x="1288" y="286" width="3" height="5" fill="#6ba583"/>
<rect x="1297" y="284" width="1" height="16" fill="#737375"/>
<rect x="1295" y="285" width="5" height="13" fill="#5b1a13"/>
<rect x="1296" y="286" width="3" height="11" fill="#d75442"/>
<rect x="1305" y="280" width="1" height="18" fill="#737375"/>
<rect x="1303" y="283" width="5" height="15" fill="#5b1a13"/>
<rect x="1304" y="284" width="3" height="13" fill="#d75442"/>
<rect x="1313" y="305" width="1" height="41" fill="#737375"/>
<rect x="1311" y="305" width="5" height="25" fill="#5b1a13"/>
<rect x="1312" y="306" width="3" height="23" fill="#d75442"/>
<rect x="1321" y="336" width="1" height="26" fill="#737375"/>
<rect x="1319" y="345" width="5" height="6" fill="#5b1a13"/>
<rect x="1320" y="346" width="3" height="4" fill="#d75442"/>
<rect x="1330" y="237" width="1" height="45" fill="#737375"/>
<rect x="1328" y="238" width="5" height="36" fill="#225437"/>
<rect x="1329" y="239" width="3" height="34" fill="#6ba583"/>
<rect x="1338" y="199" width="1" height="49" fill="#737375"/>
<rect x="1336" y="215" width="5" height="20" fill="#5b1a13"/>
<rect x="1337" y="216" width="3" height="18" fill="#d75442"/>
<rect x="1346" y="216" width="1" height="22" fill="#737375"/>
<rect x="1344" y="226" width="5" height="6" fill="#5b1a13"/>
<rect x="1345" y="227" width="3" height="4" fill="#d75442"/>
<rect x="1354" y="228" width="1" height="24" fill="#737375"/>
<rect x="1352" y="229" width="5" height="7" fill="#5b1a13"/>
<rect x="1353" y="230" width="3" height="5" fill="#d75442"/>
<rect x="1362" y="234" width="1" height="18" fill="#737375"/>
<rect x="1360" y="247" width="5" height="1" fill="#225437"/>
<rect x="1370" y="223" width="1" height="17" fill="#737375"/>
<rect x="1368" y="232" width="5" height="1" fill="#225437"/>
<rect x="1379" y="200" width="1" height="29" fill="#737375"/>
<rect x="1377" y="200" width="5" height="23" fill="#225437"/>
<rect x="1378" y="201" width="3" height="21" fill="#6ba583"/>
<rect x="1387" y="145" width="1" height="40" fill="#737375"/>
<rect x="1385" y="170" width="5" height="12" fill="#225437"/>
<rect x="1386" y="171" width="3" height="10" fill="#6ba583"/>
<rect x="1395" y="161" width="1" height="27" fill="#737375"/>
<rect x="1393" y="163" width="5" height="8" fill="#225437"/>
<rect x="1394" y="164" width="3" height="6" fill="#6ba583"/>
<rect x="1403" y="124" width="1" height="28" fill="#737375"/>
<rect x="1401" y="135" width="5" height="8" fill="#225437"/>
<rect x="1402" y="136" width="3" height="6" fill="#6ba583"/>
<rect x="1411" y="94" width="1" height="32" fill="#737375"/>
<rect x="1409" y="95" width="5" height="25" fill="#225437"/>
<rect x="1410" y="96" width="3" height="23" fill="#6ba583"/>
<rect x="1419" y="47" width="1" height="109" fill="#737375"/>
<rect x="1417" y="70" width="5" height="77" fill="#5b1a13"/>
<rect x="1418" y="71" width="3" height="75" fill="#d75442"/></g>
<g clip-path="url(#cm)"><polygon points="299.5,665 308.5,659.5 317.5,665 317.5,678.5 299.5,678.5" fill="#fff" stroke="#089981" stroke-width="1.9" stroke-linejoin="round"/><text x="308.5" y="674.5" text-anchor="middle" font-size="12" fill="#089981">E</text><polygon points="814.5,665 823.5,659.5 832.5,665 832.5,678.5 814.5,678.5" fill="#fff" stroke="#089981" stroke-width="1.9" stroke-linejoin="round"/><text x="823.5" y="674.5" text-anchor="middle" font-size="12" fill="#089981">E</text><polygon points="1312.5,665 1321.5,659.5 1330.5,665 1330.5,678.5 1312.5,678.5" fill="#fff" stroke="#089981" stroke-width="1.9" stroke-linejoin="round"/><text x="1321.5" y="674.5" text-anchor="middle" font-size="12" fill="#089981">E</text><circle cx="382" cy="669.5" r="9.4" fill="#fff" stroke="#2962ff" stroke-width="2"/><text x="382" y="673.8" text-anchor="middle" font-size="12" fill="#2962ff">D</text><circle cx="896" cy="669.5" r="9.4" fill="#fff" stroke="#2962ff" stroke-width="2"/><text x="896" y="673.8" text-anchor="middle" font-size="12" fill="#2962ff">D</text><circle cx="1395" cy="669.5" r="9.4" fill="#fff" stroke="#2962ff" stroke-width="2"/><text x="1395" y="673.8" text-anchor="middle" font-size="12" fill="#2962ff">D</text></g>
<g clip-path="url(#ca)"><path d="M1.6,718.4 L52.6,721.1 L78.8,718.4 L98.6,717.8 L177.4,719.4 L187.3,717.8 L216.8,719.1 L230,717.8 L243.1,717.1 L256.2,715.2 L279.2,716.1 L295.7,713.2 L312.1,712.2 L328.5,710.6 L341.7,709.9 L358.1,711.9 L374.5,712.9 L387.6,712.9 L407.4,713.8 L430.4,715.2 L446.8,714.5 L459.9,715.5 L490,716.8 L536,717.8 L552.4,719.1 L588.6,719.4 L608.3,719.1 L618.1,716.8 L674,715.5 L726.5,716.1 L749.5,717.8 L805.4,719.4 L828.4,718.4 L864.5,720.4 L903.9,719.8 L949.9,720.1 L980,720.1 L1026,722.7 L1067,722 L1081.8,718.8 L1108.1,718.8 L1127.8,717.8 L1157.4,717.8 L1170.5,716.1 L1196.8,716.8 L1214.9,716.1 L1239.5,711.2 L1252.7,710.2 L1275.7,708.9 L1288.8,707.3 L1305.2,707.9 L1321.7,703.7 L1331.5,694.8 L1338.1,693.1 L1357.8,695.8 L1374.2,697.1 L1387.4,694.1 L1410.4,693.1 L1419.5,684.9" fill="none" stroke="#c62828" stroke-width="1.1" stroke-linejoin="round" /></g>
<g clip-path="url(#cc)"><path d="M1.6,763.8 L13.1,760.5 L21.4,761.5 L29.6,766.1 L37.8,761.5 L46,765.4 L54.2,764.4 L62.4,752.9 L70.6,730.9 L78.8,733.5 L87.1,740.8 L95.3,744.1 L103.5,749 L111.7,757.2 L119.9,762.8 L128.1,764.4 L136.3,760.5 L144.5,762.1 L152.8,758.8 L161,757.2 L169.2,757.9 L177.4,760.5 L185.6,772.6 L193.8,774.3 L202,772.3 L210.3,771.7 L218.5,778.6 L226.7,794.3 L234.9,792.7 L243.1,797.3 L251.3,785.1 L259.5,773 L267.7,775.3 L275.9,777.6 L282.5,780.2 L292.4,758.2 L298.9,757.2 L308.8,757.2 L317,748.3 L325.2,758.8 L333.4,758.8 L341.7,749.6 L349.9,747.7 L358.1,750 L366.3,754.9 L374.5,758.8 L382.7,763.4 L390.9,768.7 L399.1,770.7 L407.4,774.6 L415.6,776.6 L423.8,775.3 L430.4,774.9 L438.6,783.5 L446.8,789.1 L455,786.8 L463.2,788.4 L471.4,791 L479.6,787.4 L489.5,783.5 L503.1,779.5 L516.3,773.6 L528.8,766.4 L536,768.7 L545.2,768.7 L560.6,757.2 L568.8,757.9 L577.1,753.3 L585.3,748.3 L593.8,747.3 L601.7,755.6 L609.9,758.2 L618.1,771 L626.3,777.9 L634.5,779.2 L642.8,784.1 L651,779.5 L659.2,774.6 L667.4,781.2 L675.6,789.1 L683.8,787.4 L692,782.8 L700.3,784.5 L708.5,776.3 L716.7,769.4 L724.9,763.1 L733.1,758.8 L741.3,757.2 L749.5,752.9 L757.7,749.6 L765.9,748.3 L774.2,748.3 L782.4,749.6 L790.6,753.9 L798.8,755.6 L807,756.2 L815.2,755.6 L823.4,757.9 L831.7,761.5 L839.9,763.8 L848.1,764.4 L856.3,766.1 L864.5,765.4 L872.7,773 L880.9,777.9 L889.1,787.4 L897.3,783.5 L905.6,784.5 L913.8,782.5 L922,774.6 L930.2,778.6 L938.4,774.3 L946.6,766.4 L954.8,765.4 L963,759.8 L971.3,751.6 L979.5,754.9 L986.6,759.5 L999.7,758.8 L1011.2,756.5 L1027.6,757.2 L1034.2,758.8 L1044.1,766.1 L1052.3,773 L1060.5,772 L1068.7,763.1 L1075.3,740.8 L1084.5,731.6 L1093.3,731.9 L1101.5,739.1 L1109.8,745.7 L1116.3,745.7 L1124.5,750.6 L1134.4,750 L1142.6,749 L1150.8,749.6 L1159,752.3 L1167.3,750.6 L1175.5,751.6 L1182,754.6 L1198.5,754.6 L1206.7,758.2 L1214.9,756.5 L1231.3,746.4 L1239.5,749 L1247.7,749 L1262.5,749 L1270.7,749.6 L1280.6,753.9 L1288.8,753.3 L1297,755.6 L1305.2,757.9 L1313.4,763.8 L1321.7,768.7 L1329.9,749 L1338.1,747.3 L1346.3,751.6 L1354.5,753.9 L1362.7,755.6 L1370.9,753.9 L1379.1,750.6 L1387.4,747.3 L1395.6,750 L1403.8,747.3 L1410.4,745.7 L1419.5,750.3" fill="none" stroke="#2962ff" stroke-width="1.1" stroke-linejoin="round" /></g>
<rect x="1459" y="2" width="1" height="829" fill="#50535e"/>
<rect x="2" y="803" width="1517" height="1" fill="#50535e"/>
<g font-size="12" fill="#505050" letter-spacing="-0.3"><text x="1467.7" y="65.33">960.00</text><text x="1467.7" y="105.86">920.00</text><text x="1467.7" y="146.40">880.00</text><text x="1467.7" y="186.93">840.00</text><text x="1467.7" y="227.47">800.00</text><text x="1467.7" y="268.00">760.00</text><text x="1467.7" y="308.54">720.00</text><text x="1467.7" y="349.07">680.00</text><text x="1467.7" y="389.61">640.00</text><text x="1467.7" y="430.15">600.00</text><text x="1467.7" y="470.68">560.00</text><text x="1467.7" y="511.22">520.00</text><text x="1467.7" y="551.75">480.00</text><text x="1467.7" y="592.29">440.00</text><text x="1467.7" y="632.82">400.00</text><text x="1467.7" y="673.36">360.00</text><text x="1467.5" y="715.2">20.00</text><text x="1467.5" y="741.3">250.00</text><text x="1467.5" y="773.5">0.00</text><text x="1467.5" y="804.2">−250.00</text></g>
<path d="M1459,38.9 H1505 a3,3 0 0 1 3,3 V52.9 a3,3 0 0 1 -3,3 H1459 Z" fill="#000"/><text x="1467.3" y="51.699999999999996" font-size="12" font-weight="bold" fill="#fff" letter-spacing="-0.35">974.00</text><path d="M1459,272.0 H1505 a3,3 0 0 1 3,3 V286.0 a3,3 0 0 1 -3,3 H1459 Z" fill="#000"/><text x="1467.3" y="284.8" font-size="12" font-weight="bold" fill="#fff" letter-spacing="-0.35">743.60</text><path d="M1459,514.7 H1505 a3,3 0 0 1 3,3 V528.7 a3,3 0 0 1 -3,3 H1459 Z" fill="#000"/><text x="1467.3" y="527.5" font-size="12" font-weight="bold" fill="#fff" letter-spacing="-0.35">503.90</text><path d="M1459,653.9 H1505 a3,3 0 0 1 3,3 V667.9 a3,3 0 0 1 -3,3 H1459 Z" fill="#000"/><text x="1467.3" y="666.6999999999999" font-size="12" font-weight="bold" fill="#fff" letter-spacing="-0.35">366.58</text>
<clipPath id="cx"><rect x="2" y="804" width="1457" height="27"/></clipPath>
<g font-size="12" fill="#4a4a4a" clip-path="url(#cx)"><text x="14.0" y="820.6" text-anchor="middle">Jul</text><text x="95.0" y="820.6" text-anchor="middle">18</text><text x="177.0" y="820.6" text-anchor="middle">Aug</text><text x="259.0" y="820.6" text-anchor="middle">15</text><text x="365.0" y="820.6" text-anchor="middle">Sep</text><text x="447.0" y="820.6" text-anchor="middle">18</text><text x="529.0" y="820.6" text-anchor="middle">Oct</text><text x="610.0" y="820.6" text-anchor="middle">16</text><text x="708.0" y="820.6" text-anchor="middle">Nov</text><text x="790.0" y="820.6" text-anchor="middle">15</text><text x="880.0" y="820.6" text-anchor="middle">Dec</text><text x="962.0" y="820.6" text-anchor="middle">15</text><text x="1043.0" y="820.6" text-anchor="middle">2024</text><text x="1125.0" y="820.6" text-anchor="middle">17</text><text x="1215.0" y="820.6" text-anchor="middle">Feb</text><text x="1297.0" y="820.6" text-anchor="middle">15</text><text x="1379.0" y="820.6" text-anchor="middle">Mar</text><text x="1460.0" y="820.6" text-anchor="middle">15</text></g>
</svg>
<!-- legend title -->
<svg width="20" height="20" style="position:absolute;left:10px;top:8px" viewBox="0 0 20 20">
<circle cx="10" cy="9.8" r="8.8" fill="#15161c"/>
<path d="M8.7,5.9 H16.2 V14 H8.7 Z" fill="#76b900"/>
<path d="M3.9,10.1 C5.2,8.3 7,7.3 8.9,7.2 L8.9,13.1 C7,13 5.2,12 3.9,10.1 Z" fill="#6fae00"/>
<path d="M5.6,10.4 C6.8,9.2 8.6,8.7 10.6,9.3 M6.4,11.6 C8,12.4 10,12.3 12.4,11.4 M7.3,9.4 C8.6,10.2 10.2,10.6 11.8,10.2" stroke="#1c2a08" stroke-width="0.7" fill="none" stroke-dasharray="1 0.6"/>
</svg>
<div class="lg" style="left:32.7px;top:9px;font-size:15px;line-height:19px;color:#505050;transform:scaleX(1.044);transform-origin:0 0;">NVIDIA Corporation</div>
<div class="lg" style="left:172.6px;top:9.4px;font-size:19px;font-weight:bold;line-height:19px;color:#505050;">·</div>
<div class="lg" style="left:181.9px;top:9px;font-size:15px;line-height:19px;color:#505050;transform:scaleX(0.95);transform-origin:0 0;">1D</div>
<div class="lg" style="left:203.1px;top:9.4px;font-size:19px;font-weight:bold;line-height:19px;color:#505050;">·</div>
<div class="lg" style="left:211.8px;top:9px;font-size:15px;line-height:19px;color:#505050;transform:scaleX(0.913);transform-origin:0 0;">NASDAQ</div>
<!-- pill -->
<div class="lg" style="left:284px;top:9px;width:40px;height:18px;border-radius:9px;overflow:hidden;background:#eceef2;">
  <div style="position:absolute;left:20px;top:0;width:20px;height:18px;background:#f4aac6;"></div>
  <div style="position:absolute;left:6px;top:7.5px;width:10px;height:3.5px;border-radius:2px;background:#9a9a9a;"></div>
  <div style="position:absolute;left:24.5px;top:0px;font-size:16px;line-height:18px;color:#e91e63;font-weight:bold;">≈</div>
</div>
<!-- OHLC -->
<div class="lg" style="left:340.3px;top:11px;font-size:12.5px;line-height:16px;color:#555;">O<span style="color:#7a2020">951.38</span></div>
<div class="lg" style="left:395.3px;top:11px;font-size:12.5px;line-height:16px;color:#555;">H<span style="color:#7a2020">974.00</span></div>
<div class="lg" style="left:449.8px;top:11px;font-size:12.5px;line-height:16px;color:#555;">L<span style="color:#7a2020">865.06</span></div>
<div class="lg" style="left:501.8px;top:11px;font-size:12.5px;line-height:16px;color:#555;">C<span style="color:#7a2020">875.28</span></div>
<div class="lg" style="left:555.6px;top:11px;font-size:12.5px;line-height:16px;color:#7a2020;transform:scaleX(0.975);transform-origin:0 0;">−51.41 (−5.55%)</div>
<!-- price boxes -->
<div class="lg" style="left:6px;top:35px;width:154px;height:22px;background:rgba(255,255,255,0.6);"></div>
<div class="lg" style="left:6px;top:62px;width:542px;height:24px;background:rgba(255,255,255,0.6);"></div>
<div class="lg" style="left:10px;top:34px;width:53px;height:22px;border:1px solid #f23645;border-radius:4px;background:#fff;color:#f23645;font-size:12.5px;line-height:23.4px;text-align:center;">875.28</div>
<div class="lg" style="left:72.6px;top:37.5px;font-size:10.6px;line-height:16px;color:#333;">0.00</div>
<div class="lg" style="left:102px;top:34px;width:53px;height:22px;border:1px solid #2962ff;border-radius:4px;background:#fff;color:#2962ff;font-size:12.5px;line-height:23.4px;text-align:center;">875.28</div>
<!-- MA ribbon -->
<div class="lg" style="left:10.9px;top:66px;font-size:12.5px;line-height:16px;color:#555;letter-spacing:-0.17px;">MA Ribbon SMA close 20 SMA close 50 SMA close 100 SMA close 200</div>
<div class="lg" style="left:402.7px;top:66px;font-size:12.3px;line-height:16px;color:#f23645;">783.45</div>
<div class="lg" style="left:447.6px;top:66px;font-size:12.3px;line-height:16px;color:#2962ff;">660.66</div>
<div class="lg" style="left:492.1px;top:66px;font-size:12.3px;line-height:16px;color:#333;transform:scaleX(0.8);transform-origin:0 0;">∅</div>
<div class="lg" style="left:506.3px;top:66px;font-size:12.3px;line-height:16px;color:#131722;">498.62</div>
<!-- collapse btn -->
<div class="lg" style="left:11px;top:88px;width:27px;height:19px;border:1px solid #d1d4dc;border-radius:4px;background:#fff;"></div>
<svg width="12" height="8" style="position:absolute;left:19.5px;top:94.5px" viewBox="0 0 12 8"><path d="M2.5,5.5 L6,2.2 L9.5,5.5" stroke="#131722" stroke-width="1.4" fill="none" stroke-linecap="round" stroke-linejoin="round"/></svg>
<!-- ATR / CCI legends -->
<div class="lg" style="left:11.5px;top:691.4px;font-size:12.5px;line-height:16px;color:#555;transform:scaleX(0.914);transform-origin:0 0;">ATR 14 RMA</div>
<div class="lg" style="left:87px;top:691.4px;font-size:12.3px;line-height:16px;color:#c62828;">37.44</div>
<div class="lg" style="left:6px;top:737px;width:160px;height:16px;background:rgba(255,255,255,0.55);"></div>
<div class="lg" style="left:11.5px;top:735.6px;font-size:12.5px;line-height:16px;color:#555;transform:scaleX(0.973);transform-origin:0 0;">CCI 20 hlc3 SMA 5</div>
<div class="lg" style="left:122.2px;top:735.6px;font-size:12.3px;line-height:16px;color:#2962ff;">144.94</div>
<!-- TV logo -->
<svg width="36" height="20" style="position:absolute;left:12px;top:772px" viewBox="12 772 36 20">
<rect x="12" y="772" width="34.5" height="19" fill="#fff"/>
<path d="M14,774 H25.9 V788.8 H20.1 V779.8 H14 Z" fill="#131722"/>
<circle cx="30.9" cy="776.9" r="2.9" fill="#131722"/>
<path d="M37.2,774 H43.9 L37.8,788.8 H31.1 Z" fill="#131722"/>
</svg>
<!-- USD button -->
<div class="lg" style="left:1463px;top:6px;width:51.5px;height:25.5px;border:1px solid #e0e3eb;border-radius:5px;background:#fff;box-sizing:border-box;"></div>
<div class="lg" style="left:1467.5px;top:10.5px;font-size:13px;line-height:16px;color:#131722;transform:scaleX(0.76);transform-origin:0 0;">USD</div>
<svg width="10" height="6" style="position:absolute;left:1502.5px;top:16.5px" viewBox="0 0 10 6"><path d="M2.6,1.7 L5,4.1 L7.4,1.7" stroke="#131722" stroke-width="1.2" fill="none" stroke-linecap="round" stroke-linejoin="round"/></svg>
<!-- settings icon -->
<svg width="18" height="16" style="position:absolute;left:1481.3px;top:809.3px" viewBox="0 0 18 16">
<path d="M5.3,1.5 H12.7 L16.4,8 L12.7,14.5 H5.3 L1.6,8 Z" fill="none" stroke="#131722" stroke-width="1.1" stroke-linejoin="round"/>
<circle cx="9" cy="8" r="2.2" fill="none" stroke="#131722" stroke-width="1.1"/>
</svg>
<!-- watermark -->
<svg width="1522" height="833" style="position:absolute;left:0;top:0" viewBox="0 0 1522 833">
<defs>
<filter id="wb" x="1200" y="700" width="330" height="133" filterUnits="userSpaceOnUse"><feGaussianBlur stdDeviation="0.8"/></filter>
<mask id="wmk" maskUnits="userSpaceOnUse" x="0" y="0" width="1522" height="833"><rect x="0" y="0" width="1522" height="833" fill="#fff"/><g fill="#000"><g transform="translate(1269.7,790.5) skewX(-10) scale(1.08,1)"><text font-family="Liberation Sans, Noto Sans CJK SC, WenQuanYi Zen Hei, sans-serif" font-weight="bold" font-size="58">海</text></g><g transform="translate(1331.7,790.5) skewX(-10) scale(1.08,1)"><text font-family="Liberation Sans, Noto Sans CJK SC, WenQuanYi Zen Hei, sans-serif" font-weight="bold" font-size="58">马</text></g><g transform="translate(1393.8,790.5) skewX(-10) scale(1.08,1)"><text font-family="Liberation Sans, Noto Sans CJK SC, WenQuanYi Zen Hei, sans-serif" font-weight="bold" font-size="58">财</text></g><g transform="translate(1456.8,790.5) skewX(-10) scale(1.08,1)"><text font-family="Liberation Sans, Noto Sans CJK SC, WenQuanYi Zen Hei, sans-serif" font-weight="bold" font-size="58">经</text></g></g></mask>
<clipPath id="wcl"><rect x="0" y="0" width="1519" height="833"/></clipPath>
</defs>
<g clip-path="url(#wcl)">
<g mask="url(#wmk)"><g transform="translate(-2.5,2.5)" filter="url(#wb)" fill="#000" fill-opacity="0.62"><g transform="translate(1269.7,790.5) skewX(-10) scale(1.08,1)"><text font-family="Liberation Sans, Noto Sans CJK SC, WenQuanYi Zen Hei, sans-serif" font-weight="bold" font-size="58">海</text></g><g transform="translate(1331.7,790.5) skewX(-10) scale(1.08,1)"><text font-family="Liberation Sans, Noto Sans CJK SC, WenQuanYi Zen Hei, sans-serif" font-weight="bold" font-size="58">马</text></g><g transform="translate(1393.8,790.5) skewX(-10) scale(1.08,1)"><text font-family="Liberation Sans, Noto Sans CJK SC, WenQuanYi Zen Hei, sans-serif" font-weight="bold" font-size="58">财</text></g><g transform="translate(1456.8,790.5) skewX(-10) scale(1.08,1)"><text font-family="Liberation Sans, Noto Sans CJK SC, WenQuanYi Zen Hei, sans-serif" font-weight="bold" font-size="58">经</text></g></g></g>
<g fill="#fff" fill-opacity="0.8"><g transform="translate(1269.7,790.5) skewX(-10) scale(1.08,1)"><text font-family="Liberation Sans, Noto Sans CJK SC, WenQuanYi Zen Hei, sans-serif" font-weight="bold" font-size="58">海</text></g><g transform="translate(1331.7,790.5) skewX(-10) scale(1.08,1)"><text font-family="Liberation Sans, Noto Sans CJK SC, WenQuanYi Zen Hei, sans-serif" font-weight="bold" font-size="58">马</text></g><g transform="translate(1393.8,790.5) skewX(-10) scale(1.08,1)"><text font-family="Liberation Sans, Noto Sans CJK SC, WenQuanYi Zen Hei, sans-serif" font-weight="bold" font-size="58">财</text></g><g transform="translate(1456.8,790.5) skewX(-10) scale(1.08,1)"><text font-family="Liberation Sans, Noto Sans CJK SC, WenQuanYi Zen Hei, sans-serif" font-weight="bold" font-size="58">经</text></g></g>
</g>
</svg>
<div class="wml" style="left:1286.7px;">z</div>
<div class="wml" style="left:1315.3px;">z</div>
<div class="wml" style="left:1342.9px;">r</div>
<div class="wml" style="left:1363.8px;">t</div>
<div class="wml" style="left:1383px;">0</div>
<div class="wml" style="left:1417.4px;">1</div>
<div class="wml" style="left:1444.6px;">.</div>
<div class="wml" style="left:1461.3px;">c</div>
<div class="wml" style="left:1490.4px;">n</div>

</body></html>
